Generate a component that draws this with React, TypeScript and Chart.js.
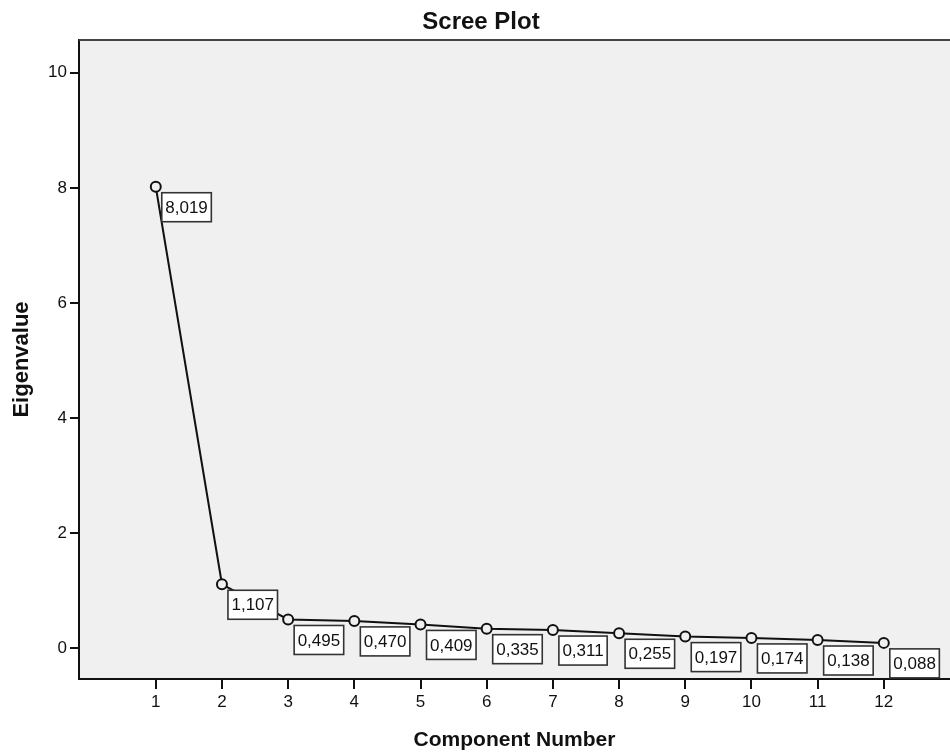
import React, { useEffect, useRef } from "react";
import { Chart, registerables } from "chart.js";

Chart.register(...registerables);

const components = [1, 2, 3, 4, 5, 6, 7, 8, 9, 10, 11, 12];
const eigenvalues = [8.019, 1.107, 0.495, 0.47, 0.409, 0.335, 0.311, 0.255, 0.197, 0.174, 0.138, 0.088];
const yTickValues = [0, 2, 4, 6, 8, 10];
const chartTitle = "Scree Plot";
const xTitle = "Component Number";
const yTitle = "Eigenvalue";

const FONT = "'Liberation Sans', Arial, sans-serif";
const INK = "#111111";
const PLOT_BG = "#f0f0f0";

const fmt = (v: number) => v.toFixed(3).replace(".", ",");

const backgroundPlugin = {
  id: "bg",
  beforeDraw(chart: any) {
    const { ctx, chartArea, width, height } = chart;
    ctx.save();
    ctx.fillStyle = "#ffffff";
    ctx.fillRect(0, 0, width, height);
    ctx.fillStyle = PLOT_BG;
    ctx.fillRect(chartArea.left, chartArea.top, chartArea.right - chartArea.left, chartArea.bottom - chartArea.top);
    ctx.restore();
  },
  afterDraw(chart: any) {
    const { ctx, chartArea } = chart;
    ctx.save();
    ctx.strokeStyle = "#444444";
    ctx.lineWidth = 2;
    ctx.beginPath();
    ctx.moveTo(chartArea.left, chartArea.top);
    ctx.lineTo(chartArea.right, chartArea.top);
    ctx.stroke();
    ctx.fillStyle = INK;
    ctx.textAlign = "center";
    ctx.textBaseline = "alphabetic";
    ctx.font = `bold 24px ${FONT}`;
    ctx.fillText(chartTitle, 481, 29);
    ctx.font = `bold 21px ${FONT}`;
    ctx.fillText(xTitle, (chartArea.left + chartArea.right) / 2, 746);
    ctx.save();
    ctx.translate(28, (chartArea.top + chartArea.bottom) / 2);
    ctx.rotate(-Math.PI / 2);
    ctx.font = `bold 22px ${FONT}`;
    ctx.fillText(yTitle, 0, 0);
    ctx.restore();
    ctx.restore();
  },
};

const labelPlugin = {
  id: "valueBoxes",
  afterDatasetsDraw(chart: any) {
    const { ctx } = chart;
    const meta = chart.getDatasetMeta(0);
    ctx.save();
    ctx.font = `17px ${FONT}`;
    ctx.textAlign = "center";
    ctx.textBaseline = "middle";
    meta.data.forEach((pt: any, i: number) => {
      const text = fmt(eigenvalues[i]);
      const tw = ctx.measureText(text).width;
      const w = tw + 7;
      const h = 29;
      const x = pt.x + 6;
      const y = pt.y + 6;
      ctx.fillStyle = "#ffffff";
      ctx.fillRect(x, y, w, h);
      ctx.strokeStyle = "#333333";
      ctx.lineWidth = 1.6;
      ctx.strokeRect(x, y, w, h);
      ctx.fillStyle = INK;
      ctx.fillText(text, x + w / 2, y + h / 2 + 1);
    });
    ctx.restore();
  },
};

export default function App() {
  const canvasRef = useRef<HTMLCanvasElement | null>(null);

  useEffect(() => {
    const canvas = canvasRef.current;
    if (!canvas) return;
    const chart = new Chart(canvas, {
      type: "line",
      data: {
        datasets: [
          {
            data: components.map((c, i) => ({ x: c, y: eigenvalues[i] })),
            borderColor: INK,
            borderWidth: 2,
            pointRadius: 5,
            pointBorderWidth: 2,
            pointBorderColor: INK,
            pointBackgroundColor: PLOT_BG,
            tension: 0,
            fill: false,
          },
        ],
      },
      options: {
        animation: false,
        responsive: false,
        maintainAspectRatio: false,
        layout: { autoPadding: false, padding: { top: 40, left: 0, right: 0, bottom: 0 } },
        plugins: {
          legend: { display: false },
          tooltip: { enabled: false },
          title: { display: false },
        },
        scales: {
          x: {
            type: "linear",
            min: -0.16,
            max: 13,
            afterBuildTicks: (s: any) => {
              s.ticks = components.map((v) => ({ value: v }));
            },
            afterFit: (s: any) => {
              s.height = 73;
              s.paddingLeft = 0;
              s.paddingRight = 0;
            },
            grid: {
              display: true,
              drawOnChartArea: false,
              drawTicks: true,
              tickLength: 10,
              color: INK,
              lineWidth: 2,
            },
            border: { display: true, color: INK, width: 2 },
            ticks: {
              color: INK,
              font: { family: FONT, size: 17 },
              padding: 3,
              maxRotation: 0,
              autoSkip: false,
              callback: (v: any) => String(v),
            },
          },
          y: {
            type: "linear",
            min: -0.54,
            max: 10.57,
            afterBuildTicks: (s: any) => {
              s.ticks = yTickValues.map((v) => ({ value: v }));
            },
            afterFit: (s: any) => {
              s.width = 79;
              s.paddingTop = 0;
              s.paddingBottom = 0;
            },
            grid: {
              display: true,
              drawOnChartArea: false,
              drawTicks: true,
              tickLength: 9,
              color: INK,
              lineWidth: 2,
            },
            border: { display: true, color: INK, width: 2 },
            ticks: {
              color: INK,
              font: { family: FONT, size: 17 },
              padding: 3,
              callback: (v: any) => String(v),
            },
          },
        },
      },
      plugins: [backgroundPlugin, labelPlugin],
    });
    return () => chart.destroy();
  }, []);

  return (
    <div style={{ position: "fixed", left: 0, top: 0, width: 950, height: 752, background: "#fff" }}>
      <canvas ref={canvasRef} width={950} height={752} style={{ width: 950, height: 752, display: "block" }} />
    </div>
  );
}
